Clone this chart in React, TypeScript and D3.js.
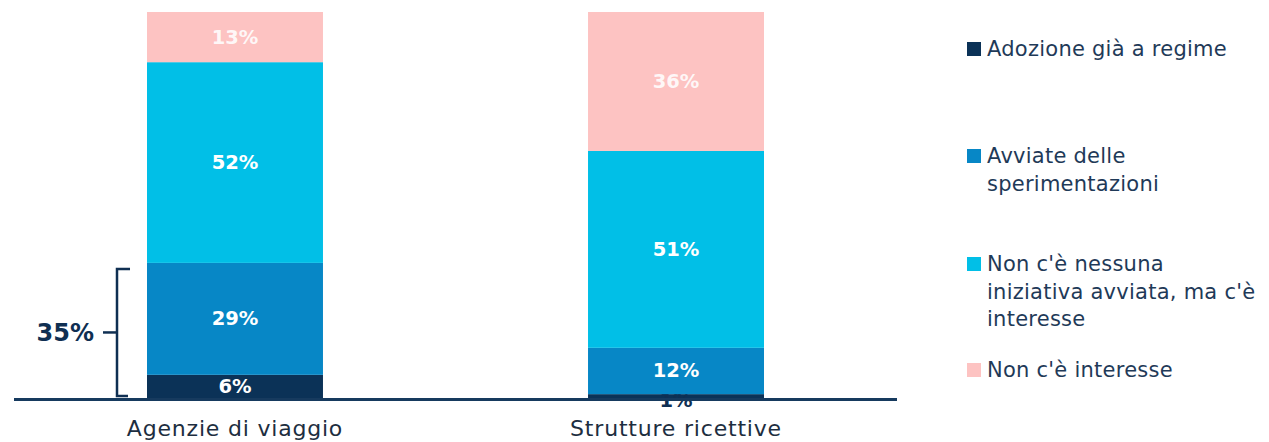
import React from "react";
import * as d3 from "d3";

const categories = ["Agenzie di viaggio", "Strutture ricettive"];
const seriesNames = [
  "Adozione già a regime",
  "Avviate delle sperimentazioni",
  "Non c'è nessuna iniziativa avviata, ma c'è interesse",
  "Non c'è interesse",
];
const legendLines = [
  ["Adozione già a regime"],
  ["Avviate delle", "sperimentazioni"],
  ["Non c'è nessuna", "iniziativa avviata, ma c'è", "interesse"],
  ["Non c'è interesse"],
];
const adozione = [6, 1];
const avviate = [29, 12];
const interesse = [52, 51];
const nonInteresse = [13, 36];
const colors = ["#0b3257", "#0787c6", "#01bfe7", "#fdc3c2"];
const braceLabel = "35%";

const W = 1269;
const H = 442;
const navy = "#0f2f52";
const textColor = "#1f3a58";
const font = "'DejaVu Sans', 'Open Sans', sans-serif";

export default function App() {
  const data = categories.map((c, i) => ({
    cat: c,
    s0: adozione[i],
    s1: avviate[i],
    s2: interesse[i],
    s3: nonInteresse[i],
  }));
  const keys = ["s0", "s1", "s2", "s3"];
  const stack = d3.stack<any>().keys(keys)(data);

  const x = d3
    .scaleBand<string>()
    .domain(categories)
    .range([36.75, 874.25])
    .paddingInner(0.601)
    .paddingOuter(0.25);
  const y = d3.scaleLinear().domain([0, 100]).range([398, 12]);

  const bw = x.bandwidth();

  const braceTop = y(adozione[0] + avviate[0]) + 6;
  const braceBot = y(0) - 2;
  const braceX = (x(categories[0]) as number) - 30;
  const braceMid = (braceTop + braceBot) / 2;

  return (
    <svg width={W} height={H} style={{ position: "absolute", left: 0, top: 0 }}>
      <rect width={W} height={H} fill="#ffffff" />
      {stack.map((layer, li) =>
        layer.map((d, i) => {
          const x0 = x(categories[i]) as number;
          const v = d[1] - d[0];
          const yTop = y(d[1]);
          const yBot = y(d[0]);
          const small = v < 3;
          return (
            <g key={`${li}-${i}`}>
              <rect x={x0} y={yTop} width={bw} height={yBot - yTop} fill={colors[li]} />
              <text
                x={x0 + bw / 2}
                y={small ? yBot + 2 : (yTop + yBot) / 2}
                textAnchor="middle"
                dominantBaseline="central"
                fontFamily={font}
                fontWeight={700}
                fontSize={19.5}
                fill={small ? navy : li === 3 ? "rgba(255,255,255,0.88)" : "#ffffff"}
              >
                {`${v}%`}
              </text>
            </g>
          );
        })
      )}
      <line x1={14} x2={897} y1={399.5} y2={399.5} stroke="#163a5e" strokeWidth={3} />
      {categories.map((c) => (
        <text
          key={c}
          x={(x(c) as number) + bw / 2}
          y={436}
          textAnchor="middle"
          fontFamily={font}
          fontSize={22}
          letterSpacing={0.8}
          fill="#1d2e40"
        >
          {c}
        </text>
      ))}
      <path
        d={`M${braceX + 13},${braceTop} L${braceX},${braceTop} L${braceX},${braceBot} L${braceX + 11},${braceBot}`}
        fill="none"
        stroke={navy}
        strokeWidth={2.5}
      />
      <line x1={braceX - 14} x2={braceX} y1={braceMid} y2={braceMid} stroke={navy} strokeWidth={2.5} />
      <text
        x={braceX - 23}
        y={braceMid + 1}
        textAnchor="end"
        dominantBaseline="central"
        fontFamily={font}
        fontWeight={700}
        fontSize={24}
        fill={navy}
      >
        {braceLabel}
      </text>
      {legendLines.map((lines, i) => {
        const baselines = [56, 163, 271, 377];
        const b = baselines[i];
        return (
          <g key={seriesNames[i]}>
            <rect x={967} y={b - 14} width={14} height={14} fill={colors[i]} />
            {lines.map((ln, j) => (
              <text
                key={j}
                x={987}
                y={b + j * 27.5}
                fontFamily={font}
                fontSize={21}
                letterSpacing={0.25}
                fill={textColor}
              >
                {ln}
              </text>
            ))}
          </g>
        );
      })}
    </svg>
  );
}
